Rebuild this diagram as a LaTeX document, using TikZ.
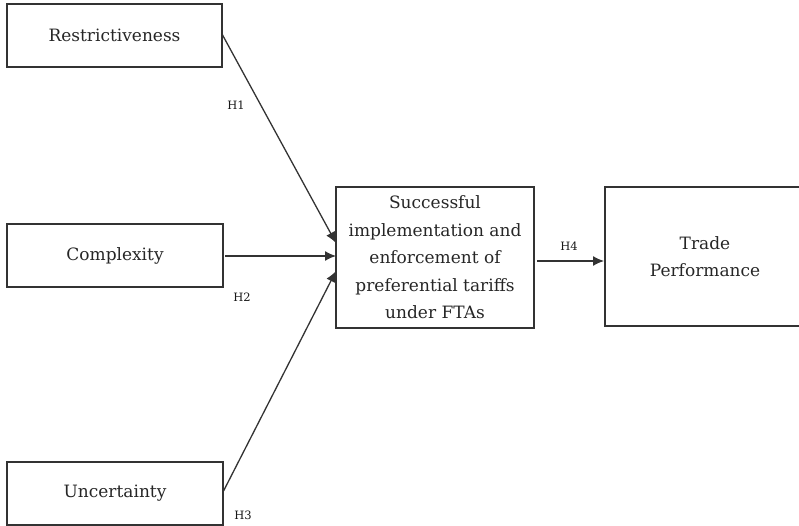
\documentclass[tikz,border=0pt]{standalone}
\usepackage{fontspec}
\setmainfont{DejaVu Serif}
\usetikzlibrary{arrows.meta}
\begin{document}
\begin{tikzpicture}[x=1pt,y=-1pt,
  box/.style={draw=black!80,line width=1.4pt,inner sep=0pt},
  lbl/.style={font=\fontsize{17}{27.5}\selectfont,text=black!85,align=center},
  hyp/.style={font=\fontsize{11.5}{13}\selectfont,text=black!90,inner sep=0pt},
  conn/.style={draw=black!80,line width=1.3pt,-{Latex[length=11pt,width=10pt]}}]
\useasboundingbox (0,0) rectangle (799,526);
\node[box,minimum width=215pt,minimum height=63pt] (r) at (114.5,35.5) {};
\node[lbl] at (r.center) {Restrictiveness};
\node[box,minimum width=216pt,minimum height=63pt] (c) at (115,255.5) {};
\node[lbl] at (c.center) {Complexity};
\node[box,minimum width=216pt,minimum height=63pt] (u) at (115,493.5) {};
\node[lbl] at (u.center) {Uncertainty};
\node[box,minimum width=198pt,minimum height=141pt] (s) at (435,257.5) {};
\node[lbl] at (s.center) {Successful\\implementation and\\enforcement of\\preferential tariffs\\under FTAs};
\node[box,minimum width=200pt,minimum height=139pt] (t) at (705,256.5) {};
\node[lbl] at (t.center) {Trade\\Performance};
\coordinate (r1) at (222,34);
\coordinate (s1) at (336,243);
\coordinate (c1) at (225,256);
\coordinate (s2) at (336,256);
\coordinate (u1) at (223,492);
\coordinate (s3) at (336,271);
\coordinate (s4) at (537,261);
\coordinate (t1) at (604,261);
\draw[conn] (r1) -- (s1);
\draw[conn] (c1) -- (s2);
\draw[conn] (u1) -- (s3);
\draw[conn] (s4) -- (t1);
\node[hyp] (h1) at (236,105) {H1};
\node[hyp] (h2) at (242,297) {H2};
\node[hyp] (h3) at (243,515) {H3};
\node[hyp] (h4) at (569,246) {H4};
\end{tikzpicture}
\end{document}
